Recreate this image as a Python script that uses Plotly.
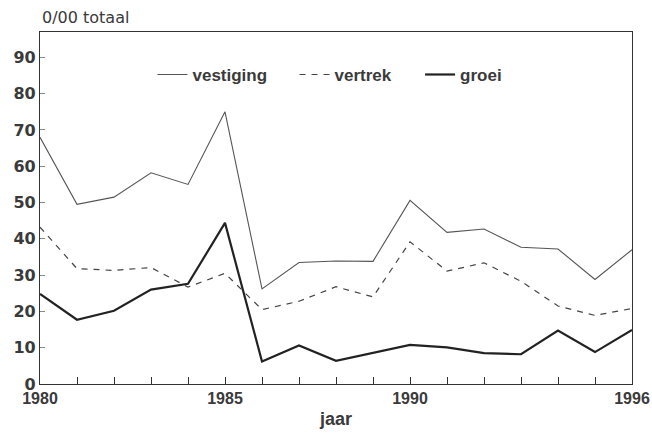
import plotly.graph_objects as go

years = list(range(1980, 1997))
vestiging = [68, 49.5, 51.5, 58.2, 55, 75, 26.2, 33.5, 33.9, 33.8, 50.6, 41.8, 42.7, 37.7, 37.2, 28.8, 37]
vertrek = [43.2, 31.8, 31.3, 32.1, 26.7, 30.5, 20.5, 22.8, 26.8, 24, 39.2, 31.1, 33.4, 28.3, 21.5, 18.9, 20.8]
groei = [24.8, 17.7, 20.2, 26, 27.6, 44.4, 6.2, 10.6, 6.4, 8.6, 10.8, 10.1, 8.5, 8.2, 14.7, 8.8, 14.9]

x_tickvals = years
x_ticktext = ["1980", "", "", "", "", "1985", "", "", "", "", "1990", "", "", "", "", "", "1996"]
y_tickvals = [0, 10, 20, 30, 40, 50, 60, 70, 80, 90]

FONT = "Liberation Sans, Arial, sans-serif"
TXT = "#3a3a3a"

fig = go.Figure()
fig.add_trace(go.Scatter(x=years, y=vestiging, mode="lines", name="vestiging", legend="legend",
                         line=dict(color="#555555", width=1.1)))
fig.add_trace(go.Scatter(x=years, y=vertrek, mode="lines", name="vertrek", legend="legend2",
                         line=dict(color="#444444", width=1.2, dash="6px,6px")))
fig.add_trace(go.Scatter(x=years, y=groei, mode="lines", name="groei", legend="legend3",
                         line=dict(color="#222222", width=2.2)))

leg_common = dict(orientation="h", yanchor="middle", y=0.878, xanchor="left",
                  bgcolor="rgba(0,0,0,0)", borderwidth=0,
                  font=dict(family=FONT, size=17, color=TXT, weight="bold"))

fig.update_layout(
    width=652, height=437,
    margin=dict(l=40, r=20, t=32, b=53),
    paper_bgcolor="white", plot_bgcolor="white",
    font=dict(family=FONT, size=16, color=TXT),
    showlegend=True,
    legend=dict(x=0.19, **leg_common),
    legend2=dict(x=0.43, **leg_common),
    legend3=dict(x=0.642, **leg_common),
    xaxis=dict(range=[1980, 1996], tickvals=x_tickvals, ticktext=x_ticktext,
               ticks="inside", ticklen=7, tickcolor="#333333", tickwidth=1,
               showgrid=False, zeroline=False, showline=True, linecolor="#333333",
               linewidth=1.2, mirror=True, automargin=False, ticklabeloverflow="allow",
               tickfont=dict(family=FONT, size=16, color=TXT, weight="bold"),
               title=dict(text="jaar", font=dict(family=FONT, size=18, color=TXT, weight="bold"),
                          standoff=6)),
    yaxis=dict(range=[0, 97], tickvals=y_tickvals,
               ticks="inside", ticklen=5, tickcolor="#888888", tickwidth=1,
               showgrid=False, zeroline=False, showline=True, linecolor="#333333",
               linewidth=1.2, mirror=True, automargin=False,
               tickfont=dict(family="DejaVu Sans, sans-serif", size=16, color=TXT, weight="bold")),
    annotations=[dict(text="0/00 totaal", xref="paper", yref="paper", x=0.0, y=1.0,
                      xanchor="left", yanchor="bottom", yshift=3, showarrow=False,
                      font=dict(family="DejaVu Sans, sans-serif", size=16, color=TXT))],
)

fig.write_html(
    "out.html",
    config={"displayModeBar": False},
    post_script="document.body.style.margin='0';document.body.style.overflow='hidden';",
)
